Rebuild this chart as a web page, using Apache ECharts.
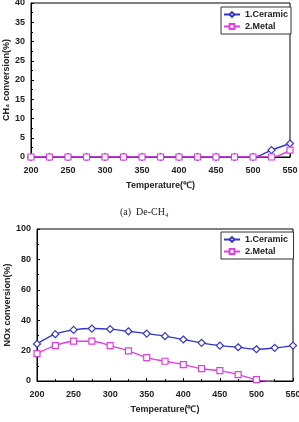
<!DOCTYPE html>
<html>
<head>
<meta charset="utf-8">
<script src="https://cdn.jsdelivr.net/npm/echarts@6/dist/echarts.min.js"></script>
<style>
  html, body { margin: 0; padding: 0; background: #fff; }
  #chart { width: 299px; height: 422px; }
</style>
</head>
<body>
<div id="chart"></div>
<script>
const temps = [200, 225, 250, 275, 300, 325, 350, 375, 400, 425, 450, 475, 500, 525, 550];
const ch4Ceramic = [0, 0, 0, 0, 0, 0, 0, 0, 0, 0, 0, 0, 0, 1.8, 3.5];
const ch4Metal = [0, 0, 0, 0, 0, 0, 0, 0, 0, 0, 0, 0, 0, 0, 1.8];
const noxCeramic = [24.4, 30.8, 33.6, 34.5, 34.1, 32.7, 31.2, 29.5, 27.3, 25.1, 23.3, 22.2, 20.9, 21.8, 23.3];
const noxMetal = [18.0, 23.3, 26.2, 26.2, 23.3, 19.8, 15.4, 13.0, 10.8, 8.1, 6.8, 4.2, 0.9, -0.8, null];
const seriesNames = ["1.Ceramic", "2.Metal"];
const caption = "(a)  De-CH\u2084";

const blue = "#3535c8";
const pink = "#e03ee0";
const font = "Liberation Sans, Arial, sans-serif";

function xAxis(gridIndex) {
  return {
    type: "value", gridIndex, min: 200, max: 550, interval: 50,
    name: "Temperature(\u2103)", nameLocation: "middle", nameGap: 24, nameMoveOverlap: false,
    nameTextStyle: { color: "#222", fontFamily: font, fontWeight: "bold", fontSize: 9 },
    axisLine: { lineStyle: { color: "#000" } },
    axisTick: { inside: true, length: 3, lineStyle: { color: "#000" } },
    minorTick: { show: true, splitNumber: 2, length: 2, lineStyle: { color: "#000" } },
    axisLabel: { color: "#222", fontFamily: font, fontWeight: "bold", fontSize: 9, margin: 9 },
    splitLine: { show: false }
  };
}

function yAxis(gridIndex, max, interval, name) {
  return {
    type: "value", gridIndex, min: 0, max, interval,
    name, nameLocation: "middle", nameGap: gridIndex === 0 ? 20 : 25, nameMoveOverlap: false,
    nameTextStyle: { color: "#222", fontFamily: font, fontWeight: "bold", fontSize: 9 },
    axisLine: { lineStyle: { color: "#000" } },
    axisTick: { inside: true, length: 3, lineStyle: { color: "#000" } },
    minorTick: { show: true, splitNumber: 2, length: 2, lineStyle: { color: "#000" } },
    axisLabel: { color: "#222", fontFamily: font, fontWeight: "bold", fontSize: 9, margin: 6 },
    splitLine: { show: false }
  };
}

function line(name, data, idx, color, symbol) {
  return {
    name, type: "line", xAxisIndex: idx, yAxisIndex: idx,
    data: temps.map((t, i) => [t, data[i]]),
    smooth: 0.35, symbol, symbolSize: symbol === "diamond" ? 7 : 6,
    itemStyle: { color: "#fff", borderColor: color, borderWidth: 1.2 },
    lineStyle: { color, width: 1.4 },
    clip: true
  };
}

function legend(idx, top) {
  return {
    orient: "vertical", left: 221, top,
    itemWidth: 16, itemHeight: 6, itemGap: 3,
    padding: [3, 3, 3, 2],
    borderColor: "#333", borderWidth: 1, backgroundColor: "#fff",
    textStyle: { color: "#222", fontFamily: font, fontWeight: "bold", fontSize: 9 },
    data: seriesNames.map(n => ({ name: n + (idx === 1 ? " " : "") }))
  };
}

const chart = echarts.init(document.getElementById("chart"), null, { renderer: "canvas" });
chart.setOption({
  animation: false,
  backgroundColor: "#fff",
  grid: [
    { left: 31, top: 3, width: 259, height: 154, outerBoundsMode: "none", show: true, borderColor: "#000", borderWidth: 1, backgroundColor: "transparent" },
    { left: 37, top: 229, width: 256, height: 152, outerBoundsMode: "none", show: true, borderColor: "#000", borderWidth: 1, backgroundColor: "transparent" }
  ],
  xAxis: [xAxis(0), xAxis(1)],
  yAxis: [
    yAxis(0, 40, 5, "CH\u2084 conversion(%)"),
    yAxis(1, 100, 20, "NOx conversion(%)")
  ],
  legend: [legend(0, 7), legend(1, 232)],
  graphic: [{
    type: "text", left: 120, top: 207,
    style: { text: caption, fill: "#222", font: "10px 'Liberation Serif', 'Times New Roman', serif" }
  }],
  series: [
    line(seriesNames[0], ch4Ceramic, 0, blue, "diamond"),
    line(seriesNames[1], ch4Metal, 0, pink, "rect"),
    line(seriesNames[0] + " ", noxCeramic, 1, blue, "diamond"),
    line(seriesNames[1] + " ", noxMetal, 1, pink, "rect")
  ]
});
</script>
</body>
</html>
